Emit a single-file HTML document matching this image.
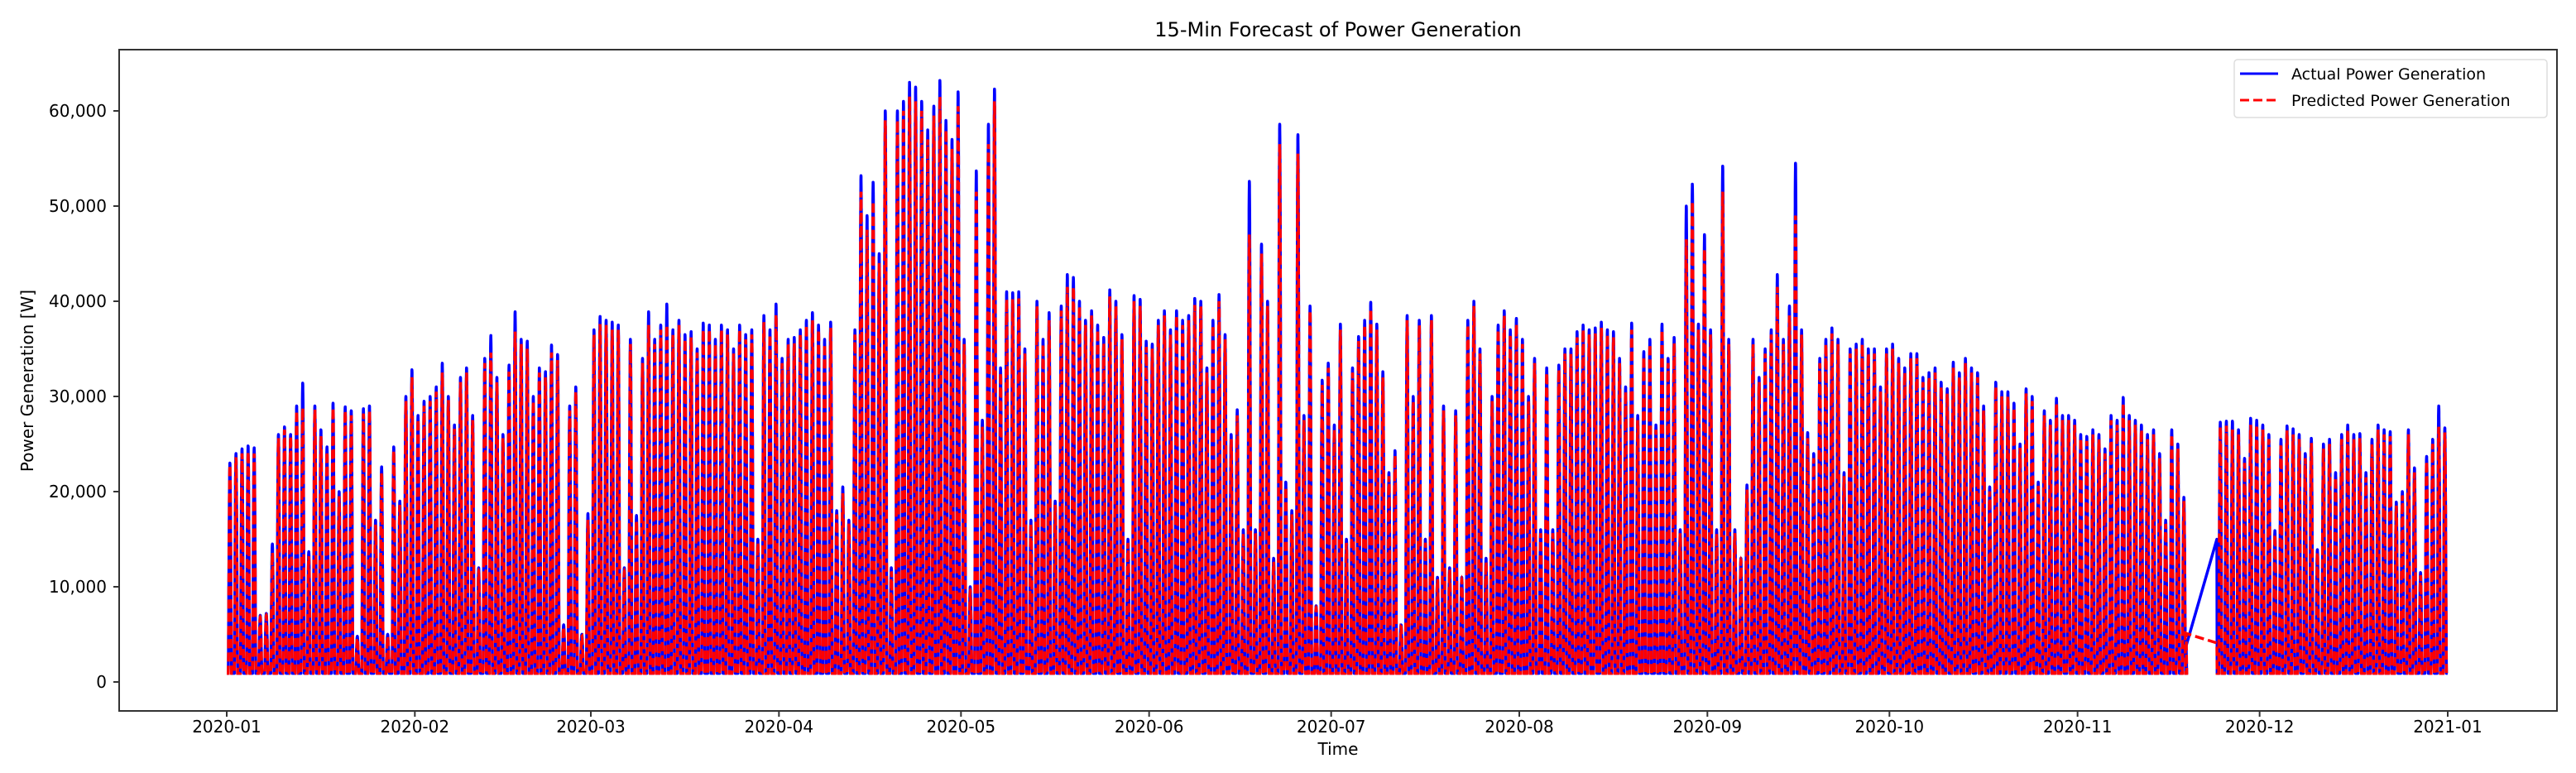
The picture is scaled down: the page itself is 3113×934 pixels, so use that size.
<!DOCTYPE html>
<html><head><meta charset="utf-8"><style>
html,body{margin:0;padding:0;background:#fff}
svg{display:block}
text{font-family:"DejaVu Sans","Liberation Sans",sans-serif;fill:#000}
</style></head><body>
<svg id="chart" width="3113" height="934" viewBox="0 0 3113 934" xmlns="http://www.w3.org/2000/svg">
<text x="1617" y="44" font-size="24" text-anchor="middle">15-Min Forecast of Power Generation</text>
<text x="1617" y="912" font-size="20" text-anchor="middle">Time</text>
<text x="0" y="0" font-size="20" text-anchor="middle" transform="translate(40,460) rotate(-90)">Power Generation [W]</text>
<g id="series"></g>
<rect x="144" y="60" width="2946" height="799" fill="none" stroke="#333" stroke-width="2"/>
<g id="xticks"></g>
<g id="yticks"></g>
<g>
<rect x="2700" y="72" width="378" height="70" rx="4" fill="#fff" fill-opacity="0.85" stroke="#ddd" stroke-width="1.5"/>
<line x1="2707" y1="89" x2="2753" y2="89" stroke="#0000ff" stroke-width="3"/>
<text x="2769" y="96" font-size="19">Actual Power Generation</text>
<line x1="2707" y1="121" x2="2753" y2="121" stroke="#ff0000" stroke-width="3" stroke-dasharray="11,5"/>
<text x="2769" y="128" font-size="19">Predicted Power Generation</text>
</g>
</svg>
<script>
// daily peak values (kW); null = missing data
const actualPeaks = [
23,24,24.5,24.8,24.6,7,7.2,14.5,26,26.8,26,29,31.4,13.7,29,26.5,24.7,29.3,20,28.9,28.5,4.8,28.7,29,17,22.6,5,24.7,19,30,32.8,
28,29.5,30,31,33.5,30,27,32,33,28,12,34,36.4,32,26,33.3,38.9,36,35.8,30,33,32.6,35.4,34.4,6,29,31,5,17.7,
37,38.4,38,37.8,37.5,12,36,17.5,34,38.9,36,37.5,39.7,37,38,36.5,36.8,35,37.7,37.5,36,37.5,37,35,37.5,36.5,37,15,38.5,37,39.7,
34,36,36.2,37,38,38.8,37.5,36,37.8,18,20.5,17,37,53.2,49,52.5,45,60,12,60,61,63,62.5,61,58,60.5,63.2,59,57,62,
36,10,53.7,27.5,58.6,62.3,33,41,40.9,41,35,17,40,36,38.8,19,39.5,42.8,42.5,40,38,39,37.5,36.2,41.2,40,36.5,15,40.6,40.2,35.8,
35.5,38,39,37,39,38,38.5,40.3,40,33,38,40.7,36.5,26,28.6,16,52.6,16,46,40,13,58.6,21,18,57.5,28,39.5,8,31.7,33.5,
27,37.6,15,33,36.3,38,39.9,37.6,32.6,22,24.3,6,38.5,30,38,15,38.5,11,29,12,28.5,11,38,40,35,13,30,37.5,39,37,38.2,
36,30,34,16,33,16,33.3,35,35,36.8,37.5,37,37.2,37.8,37,36.8,34,31,37.7,28,34.7,36,27,37.6,34,36.2,16,50,52.3,37.6,47,
37,16,54.2,36,16,13,20.7,36,32,35,37,42.8,36,39.5,54.5,37,26.2,24,34,36,37.2,36,22,35,35.5,36,35,35,31,35,
35.5,34,33,34.5,34.5,32,32.5,33,31.5,30.8,33.6,32.5,34,33,32.5,29,20.5,31.5,30.5,30.5,29.3,25,30.8,30,21,28.5,27.5,29.8,28,28,27.5,
26,25.8,26.5,26,24.5,28,27.5,29.9,28,27.5,27,26,26.5,24,17,26.5,25,19.4,null,null,null,null,null,27.3,27.4,27.4,26.5,23.5,27.7,27.5,
27,26,15.9,25.5,26.9,26.6,26,24,25.6,13.9,25,25.5,22,26,27,26,26.1,22,25.5,27,26.5,26.3,18.9,20,26.5,22.5,11.5,23.7,25.5,29,26.7
];
const predictedPeaks = [
22.8,23.6,24,24.2,24,6.8,7,13.6,25.6,26.5,25.8,28.5,28.8,13.2,28.6,25.8,24.2,28.8,19.5,28.5,28,4.6,28.2,28.5,16.5,22,4.8,24.3,18.6,29.5,32,
27.6,29,29.5,30.5,32.5,29.6,26.6,31.5,32.5,27.5,11.6,33.5,34.6,31.5,25.6,32.6,36.8,35.5,35,29.5,32.5,32,34.6,33.8,5.8,28.5,30.5,4.8,17,
36.5,37.6,37.5,37,37,11.6,35.5,17,33.5,37.5,35.5,37,37.5,36.5,37.5,36,36.2,34.6,37,37,35.5,37,36.5,34.5,37,36,36.5,14.6,37.8,36.5,38.6,
33.5,35.5,35.6,36.5,37.5,38,37,35.5,37.2,17.6,19.8,16.6,36.5,51.5,47.5,50.5,44,59,11.6,59,60,61.5,61,60,57,59.5,61.5,58,56,60.5,
35.5,9.6,51.5,26.8,56.5,61,32.5,40.2,40.2,40.3,34.5,16.6,39.5,35.5,38,18.6,39,41.5,41.5,39.5,37.5,38.5,37,35.6,40.5,39.5,36,14.6,40,39.5,35.2,
35,37.5,38.5,36.5,38.5,37.5,38,39.6,39.5,32.5,37.5,40,36,25.5,28,15.6,47,15.6,45,39.5,12.6,56.5,20.5,17.6,55.5,27.5,39,7.8,31.2,33,
26.5,37,14.6,32.5,35.8,37.5,39.2,37,32,21.6,23.8,5.8,38,29.5,37.5,14.6,38,10.8,28.5,11.8,28,10.8,37.5,39.5,34.5,12.6,29.5,37,38.5,36.5,37.6,
35.5,29.5,33.5,15.6,32.5,15.6,32.8,34.5,34.5,36.2,37,36.5,36.6,37.2,36.5,36.2,33.5,30.5,37,27.5,34.2,35.5,26.5,37,33.5,35.6,15.6,46.5,50.5,37,45.5,
36.5,15.6,51.5,35.5,15.6,12.8,20.2,35.5,31.5,34.5,36.5,41.5,35.5,38.5,49,36.5,25.6,23.5,33.5,35.5,36.6,35.5,21.6,34.5,35,35.5,34.5,34.5,30.5,34.5,
35,33.5,32.5,34,34,31.5,32,32.5,31,30.3,33,32,33.5,32.5,32,28.5,20,31,30,30,28.8,24.6,30.3,29.5,20.6,28,27,29.3,27.5,27.5,27,
25.6,25.3,26,25.5,24,27.5,27,29.3,27.5,27,26.5,25.5,26,23.5,16.6,26,24.5,19,null,null,null,null,null,26.8,26.9,26.5,26,23,27,27,
26.5,25.5,15.5,25,26.4,26,25.5,23.5,25.1,13.6,24.5,25,21.5,25.5,26.5,25.5,25.6,21.5,25,26.5,26,25.8,18.5,19.6,26,22,11.2,23.2,25,26.8,26.2
];
// values (W) at the two ends of the missing-data gap
const actualGapEnds = [3800, 15000];
const predictedGapEnds = [5100, 4100];
const yTickValues = [0,10000,20000,30000,40000,50000,60000];
const xTickLabels = ["2020-01","2020-02","2020-03","2020-04","2020-05","2020-06","2020-07","2020-08","2020-09","2020-10","2020-11","2020-12","2021-01"];
const xTickDays = [0,31,60,91,121,152,182,213,244,274,305,335,366];
const nightBase = 900;

const NS = "http://www.w3.org/2000/svg";
const X0 = 274, PXDAY = 7.3333;
const Y0 = 824, PXW = 0.0115;
function xScale(day){ return X0 + day*PXDAY; }
function yScale(v){ return Y0 - v*PXW; }

function buildPath(peaks, gapEnds){
  let d = "", started = false, inGap = false;
  for(let i=0;i<peaks.length;i++){
    const p = peaks[i];
    if(p===null){
      if(!inGap){
        d += "L"+xScale(i-0.1).toFixed(1)+","+yScale(gapEnds[0]).toFixed(1);
        inGap = true;
      }
      continue;
    }
    if(inGap){
      d += "L"+xScale(i-0.05).toFixed(1)+","+yScale(gapEnds[1]).toFixed(1);
      inGap = false;
    }
    for(let s=0;s<96;s++){
      let v = nightBase;
      if(s>=24 && s<=76){
        const t=(s-24)/52;
        v = nightBase + (p*1000-nightBase)*Math.pow(Math.sin(Math.PI*t),1.3);
      }
      const x = xScale(i + s/96).toFixed(1), y = yScale(v).toFixed(1);
      d += (started?"L":"M")+x+","+y;
      started = true;
    }
  }
  return d;
}
const g = document.getElementById("series");
const pa = document.createElementNS(NS,"path");


pa.setAttribute("d", buildPath(actualPeaks, actualGapEnds));
pa.setAttribute("fill","none"); pa.setAttribute("stroke","#0000ff"); pa.setAttribute("stroke-width","3.5");
pa.setAttribute("stroke-linejoin","round");
g.appendChild(pa);
const pp = document.createElementNS(NS,"path");


pp.setAttribute("d", buildPath(predictedPeaks, predictedGapEnds));
pp.setAttribute("fill","none"); pp.setAttribute("stroke","#ff0000"); pp.setAttribute("stroke-width","3.5");
pp.setAttribute("stroke-dasharray","11,5");
g.appendChild(pp);

const xt = document.getElementById("xticks");
for(let i=0;i<xTickLabels.length;i++){
  const x = xScale(xTickDays[i]);
  const l = document.createElementNS(NS,"line");
  
  
  l.setAttribute("x1",x); l.setAttribute("x2",x); l.setAttribute("y1",859); l.setAttribute("y2",866);
  l.setAttribute("stroke","#333"); l.setAttribute("stroke-width","2");
  xt.appendChild(l);
  const t = document.createElementNS(NS,"text");
  
  
  t.setAttribute("x",x); t.setAttribute("y",885); t.setAttribute("font-size","20"); t.setAttribute("text-anchor","middle");
  t.textContent = xTickLabels[i];
  xt.appendChild(t);
}
const yt = document.getElementById("yticks");
for(const v of yTickValues){
  const y = yScale(v);
  const l = document.createElementNS(NS,"line");
  
  
  l.setAttribute("x1",137); l.setAttribute("x2",144); l.setAttribute("y1",y); l.setAttribute("y2",y);
  l.setAttribute("stroke","#333"); l.setAttribute("stroke-width","2");
  yt.appendChild(l);
  const t = document.createElementNS(NS,"text");
  
  
  t.setAttribute("x",129); t.setAttribute("y",y+7); t.setAttribute("font-size","20"); t.setAttribute("text-anchor","end");
  t.textContent = v.toLocaleString("en-US");
  yt.appendChild(t);
}
</script>
</body></html>
